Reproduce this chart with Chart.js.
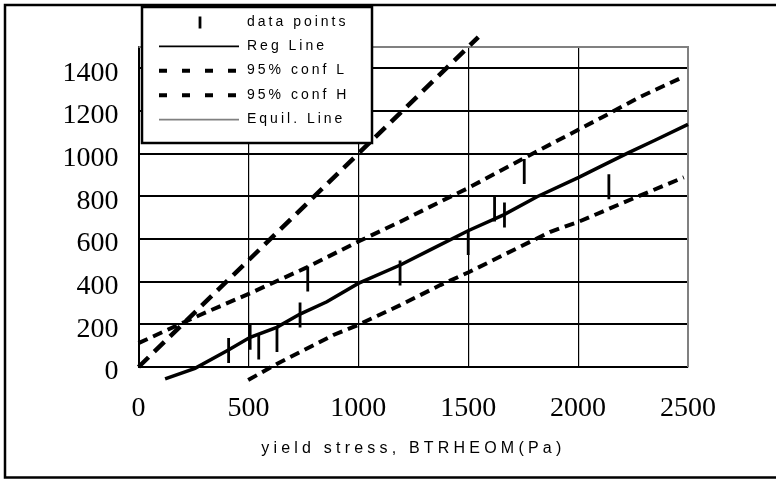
<!DOCTYPE html>
<html>
<head>
<meta charset="utf-8">
<script src="https://cdn.jsdelivr.net/npm/chart.js@4.4.1/dist/chart.umd.min.js"></script>
<style>
    html, body { margin: 0; padding: 0; background: #fff; }
    #chart { display: block; }
</style>
</head>
<body>
<canvas id="chart" width="776" height="481"></canvas>
<script>
// measured points (x = BTRHEOM yield stress)
const pointX = [410, 508, 547, 630, 735, 770, 1190, 1500, 1620, 1665, 1755, 2140];
const pointY = [77, 140, 94, 129, 244, 413, 441, 584, 741, 713, 916, 845];

// regression line
const regX = [121, 257, 409, 508, 629, 735, 857, 1000, 1191, 1327, 1502, 1661, 1813, 2003, 2101, 2230, 2352, 2500];
const regY = [-56, -6, 80, 139, 186, 248, 306, 392, 478, 549, 640, 713, 798, 889, 939, 1005, 1064, 1137];

// 95% confidence bounds
const confLX = [499, 629, 887, 998, 1191, 1373, 1502, 1874, 2003, 2253, 2481];
const confLY = [-61, 14, 150, 197, 290, 384, 444, 634, 681, 791, 889];
const confHX = [0, 280, 508, 766, 998, 1191, 1373, 1502, 1752, 2101, 2284, 2479];
const confHY = [112, 244, 346, 467, 587, 681, 775, 840, 978, 1166, 1267, 1360];

// y = x
const equilX = [0, 1546];
const equilY = [0, 1546];

const seriesNames = ['data points', 'Reg Line', '95% conf L', '95% conf H', 'Equil. Line'];
const xTicks = [0, 500, 1000, 1500, 2000, 2500];
const yTicks = [0, 200, 400, 600, 800, 1000, 1200, 1400];
const xTitle = 'yield stress, BTRHEOM(Pa)';

const toXY = (xs, ys) => xs.map((x, i) => ({ x: x, y: ys[i] }));

const SANS = '"Liberation Sans", Arial, sans-serif';
const SERIF = '"Liberation Serif", "Times New Roman", serif';

// frame, axis title and the floating legend are drawn by hand
const decorations = {
    id: 'decorations',
    beforeDatasetsDraw(chart) {
        const ctx = chart.ctx;
        const a = chart.chartArea;
        ctx.save();
        ctx.strokeStyle = '#808080';
        ctx.lineWidth = 2;
        ctx.beginPath();
        ctx.moveTo(a.left, a.top);
        ctx.lineTo(a.right, a.top);
        ctx.lineTo(a.right, a.bottom);
        ctx.stroke();
        ctx.restore();
    },
    afterDraw(chart) {
        const ctx = chart.ctx;
        const a = chart.chartArea;
        ctx.save();

        // outer border
        ctx.strokeStyle = '#000';
        ctx.lineWidth = 2.5;
        ctx.beginPath();
        ctx.moveTo(776, 5);
        ctx.lineTo(5, 5);
        ctx.lineTo(5, 477.5);
        ctx.lineTo(776, 477.5);
        ctx.stroke();

        // x axis title
        ctx.fillStyle = '#000';
        ctx.font = '16px ' + SANS;
        ctx.letterSpacing = '4.2px';
        ctx.textAlign = 'left';
        ctx.textBaseline = 'alphabetic';
        const tw = ctx.measureText(xTitle).width - 4.2;
        ctx.fillText(xTitle, (a.left + a.right) / 2 - 2 - tw / 2, 453);

        // legend box
        ctx.letterSpacing = '0px';
        ctx.fillStyle = '#fff';
        ctx.fillRect(142, 7, 230, 136);
        ctx.strokeStyle = '#000';
        ctx.lineWidth = 2.5;
        ctx.strokeRect(142, 7, 230, 136);

        const samples = [
            { kind: 'bar' },
            { kind: 'line', color: '#000', width: 1.8, dash: [] },
            { kind: 'line', color: '#000', width: 4, dash: [8, 15] },
            { kind: 'line', color: '#000', width: 4, dash: [8, 15] },
            { kind: 'line', color: '#808080', width: 1.8, dash: [] }
        ];
        chart.data.datasets.forEach((ds, i) => {
            const base = 25.5 + i * 24.4;
            const s = samples[i];
            ctx.beginPath();
            if (s.kind === 'bar') {
                ctx.strokeStyle = '#000';
                ctx.lineWidth = 2.8;
                ctx.setLineDash([]);
                ctx.moveTo(200, base - 9);
                ctx.lineTo(200, base + 3);
            } else {
                ctx.strokeStyle = s.color;
                ctx.lineWidth = s.width;
                ctx.setLineDash(s.dash);
                ctx.moveTo(159, base - 3.5);
                ctx.lineTo(239, base - 3.5);
            }
            ctx.stroke();
            ctx.setLineDash([]);

            ctx.fillStyle = '#000';
            ctx.font = '14px ' + SANS;
            ctx.letterSpacing = '3px';
            ctx.fillText(ds.label, 247, base);
        });
        ctx.restore();
    }
};

new Chart(document.getElementById('chart'), {
    type: 'scatter',
    data: {
        datasets: [{
            label: seriesNames[0],
            data: toXY(pointX, pointY),
            showLine: false,
            pointStyle: 'line',
            rotation: 90,
            pointRadius: 12.5,
            pointBorderWidth: 2.8,
            borderColor: '#000',
            backgroundColor: '#000'
        }, {
            label: seriesNames[1],
            data: toXY(regX, regY),
            showLine: true,
            borderColor: '#000',
            borderWidth: 3.5,
            pointRadius: 0,
            clip: false
        }, {
            label: seriesNames[2],
            data: toXY(confLX, confLY),
            showLine: true,
            borderColor: '#000',
            borderWidth: 4,
            borderDash: [10, 6],
            pointRadius: 0,
            clip: false
        }, {
            label: seriesNames[3],
            data: toXY(confHX, confHY),
            showLine: true,
            borderColor: '#000',
            borderWidth: 4,
            borderDash: [10, 6],
            pointRadius: 0,
            clip: false
        }, {
            label: seriesNames[4],
            data: toXY(equilX, equilY),
            showLine: true,
            borderColor: '#000',
            borderWidth: 4.5,
            borderDash: [14, 8],
            pointRadius: 0,
            clip: false
        }]
    },
    options: {
        responsive: false,
        animation: false,
        devicePixelRatio: 1,
        layout: { padding: { left: 0, top: 47, right: 88, bottom: 0 } },
        plugins: {
            legend: { display: false },
            tooltip: { enabled: false }
        },
        scales: {
            x: {
                type: 'linear',
                min: 0,
                max: 2500,
                afterBuildTicks: s => { s.ticks = xTicks.map(v => ({ value: v })); },
                afterFit: s => { s.height = 114; },
                grid: {
                    drawTicks: false,
                    lineWidth: 1.2,
                    color: c => (c.tick && c.tick.value === 2500 ? '#808080' : '#000')
                },
                border: { color: '#000', width: 2 },
                ticks: {
                    padding: 25,
                    color: '#000',
                    maxRotation: 0,
                    callback: v => String(v),
                    font: { family: SERIF, size: 28 }
                }
            },
            y: {
                type: 'linear',
                min: 0,
                max: 1500,
                afterBuildTicks: s => { s.ticks = yTicks.map(v => ({ value: v })); },
                afterFit: s => { s.width = 138.5; },
                grid: { drawTicks: false, lineWidth: 2, color: '#000' },
                border: { color: '#000', width: 2 },
                ticks: {
                    padding: 20,
                    labelOffset: 5,
                    color: '#000',
                    callback: v => String(v),
                    font: { family: SERIF, size: 28 }
                }
            }
        }
    },
    plugins: [decorations]
});
</script>
</body>
</html>
